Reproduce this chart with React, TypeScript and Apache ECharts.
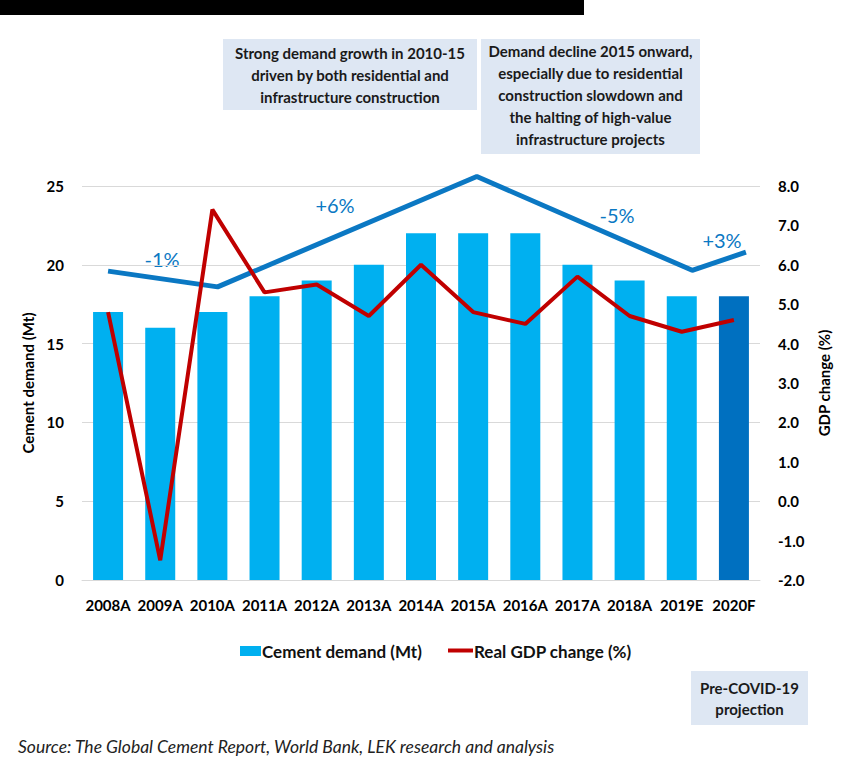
import React, { useEffect, useRef } from "react";
import * as echarts from "echarts";

const categories = ["2008A", "2009A", "2010A", "2011A", "2012A", "2013A", "2014A", "2015A", "2016A", "2017A", "2018A", "2019E", "2020F"];
const cementDemand = [17, 16, 17, 18, 19, 20, 22, 22, 22, 20, 19, 18, 18];
const gdpChange = [4.8, -1.5, 7.4, 5.3, 5.5, 4.7, 6.0, 4.8, 4.5, 5.7, 4.7, 4.3, 4.6];
// trend line points: [category position, cement level]
const trendPoints: [number, number][] = [
  [0, 19.6],
  [2.1, 18.6],
  [7.07, 25.6],
  [11.2, 19.65],
  [12.23, 20.8],
];
const leftTicks = { min: 0, max: 25, interval: 5 };
const rightTicks = { min: -2, max: 8, interval: 1 };
const cagrLabels = ["-1%", "+6%", "-5%", "+3%"];
const legendNames = ["Cement demand (Mt)", "Real GDP change (%)"];

const FONT = "Lato, 'Noto Sans', sans-serif";

export default function App() {
  const ref = useRef<HTMLDivElement>(null);
  useEffect(() => {
    document.body.style.margin = "0";
    if (!ref.current) return;
    const chart = echarts.init(ref.current, undefined, { renderer: "svg" });
    const barData = cementDemand.map((v, i) =>
      i === cementDemand.length - 1 ? { value: v, itemStyle: { color: "#0070C0" } } : v
    );
    const cagrPos = [
      [162, 259],
      [335, 205],
      [617, 215],
      [722, 240],
    ];
    const legendText = (t: string, x: number) => ({
      type: "text",
      x,
      y: 651,
      style: {
        text: t,
        align: "left",
        verticalAlign: "middle",
        fontSize: 17,
        fontWeight: "bold",
        fontFamily: FONT,
        fill: "#111",
      },
    });
    chart.setOption({
      animation: false,
      textStyle: { fontFamily: FONT },
      grid: { left: 82, right: 107, top: 186, bottom: 195 },
      xAxis: [
        {
          type: "category",
          data: categories,
          axisTick: { show: false },
          axisLine: { lineStyle: { color: "#d9d9d9", width: 1 } },
          axisLabel: { color: "#000", fontSize: 15, fontWeight: "bold", fontFamily: FONT, margin: 17, interval: 0 },
        },
        { type: "value", min: -0.5, max: 12.5, show: false },
      ],
      yAxis: [
        {
          type: "value",
          ...leftTicks,
          name: "Cement demand (Mt)",
          nameLocation: "middle",
          nameGap: 42,
          nameTextStyle: { fontSize: 15, fontWeight: "bold", color: "#000", fontFamily: FONT },
          axisLabel: { color: "#000", fontSize: 15, fontWeight: "bold", fontFamily: FONT, margin: 18 },
          axisLine: { show: false },
          axisTick: { show: false },
          splitLine: { lineStyle: { color: "#d9d9d9", width: 1 } },
        },
        {
          type: "value",
          ...rightTicks,
          name: "GDP change (%)",
          nameLocation: "middle",
          nameGap: 56,
          nameTextStyle: { fontSize: 15, fontWeight: "bold", color: "#000", fontFamily: FONT },
          axisLabel: {
            color: "#000",
            fontSize: 15,
            fontWeight: "bold",
            fontFamily: FONT,
            margin: 18,
            formatter: (v: number) => v.toFixed(1),
          },
          axisLine: { show: false },
          axisTick: { show: false },
          splitLine: { show: false },
        },
      ],
      series: [
        {
          name: legendNames[0],
          type: "bar",
          data: barData,
          barWidth: 30,
          itemStyle: { color: "#00B0F0" },
        },
        {
          name: legendNames[1],
          type: "line",
          yAxisIndex: 1,
          data: gdpChange,
          symbol: "none",
          lineStyle: { color: "#C00000", width: 4 },
          itemStyle: { color: "#C00000" },
          z: 4,
        },
        {
          name: "trend",
          type: "line",
          xAxisIndex: 1,
          yAxisIndex: 0,
          data: trendPoints,
          symbol: "none",
          clip: false,
          lineStyle: { color: "#0B78C3", width: 5 },
          z: 3,
        },
      ],
      graphic: [
        { type: "rect", shape: { x: 0, y: 0, width: 584, height: 15 }, style: { fill: "#000" } },
        { type: "rect", shape: { x: 223, y: 39, width: 254, height: 71 }, style: { fill: "#DEE7F3" } },
        {
          type: "text",
          x: 350,
          y: 42,
          style: {
            text: "Strong demand growth in 2010-15\ndriven by both residential and\ninfrastructure construction",
            align: "center",
            verticalAlign: "top",
            lineHeight: 22,
            fontSize: 15,
            fontWeight: "bold",
            fontFamily: FONT,
            fill: "#1a1a1a",
          },
        },
        { type: "rect", shape: { x: 481, y: 39, width: 219, height: 115 }, style: { fill: "#DEE7F3" } },
        {
          type: "text",
          x: 590.5,
          y: 40,
          style: {
            text: "Demand decline 2015 onward,\nespecially due to residential\nconstruction slowdown and\nthe halting of high-value\ninfrastructure projects",
            align: "center",
            verticalAlign: "top",
            lineHeight: 22,
            fontSize: 15,
            fontWeight: "bold",
            fontFamily: FONT,
            fill: "#1a1a1a",
          },
        },
        { type: "rect", shape: { x: 691, y: 671, width: 117, height: 54 }, style: { fill: "#DEE7F3" } },
        {
          type: "text",
          x: 749.5,
          y: 677,
          style: {
            text: "Pre-COVID-19\nprojection",
            align: "center",
            verticalAlign: "top",
            lineHeight: 21,
            fontSize: 15,
            fontWeight: "bold",
            fontFamily: FONT,
            fill: "#1a1a1a",
          },
        },
        {
          type: "text",
          x: 18,
          y: 746,
          style: {
            text: "Source: The Global Cement Report, World Bank, LEK research and analysis",
            align: "left",
            verticalAlign: "middle",
            fontSize: 17.5,
            fontStyle: "italic",
            fontFamily: FONT,
            fill: "#222",
          },
        },
        // legend
        { type: "rect", shape: { x: 240, y: 646, width: 21, height: 10 }, style: { fill: "#00B0F0" } },
        legendText(legendNames[0], 262),
        { type: "line", shape: { x1: 448, y1: 650.5, x2: 473, y2: 650.5 }, style: { stroke: "#C00000", lineWidth: 4 } },
        legendText(legendNames[1], 474),
        ...cagrLabels.map((t, i) => ({
          type: "text",
          x: cagrPos[i][0],
          y: cagrPos[i][1],
          style: {
            text: t,
            align: "center",
            verticalAlign: "middle",
            fontSize: 20,
            fontFamily: FONT,
            fill: "#0B78C3",
          },
        })),
      ],
    });
    return () => chart.dispose();
  }, []);
  return <div ref={ref} style={{ width: 867, height: 775 }} />;
}
